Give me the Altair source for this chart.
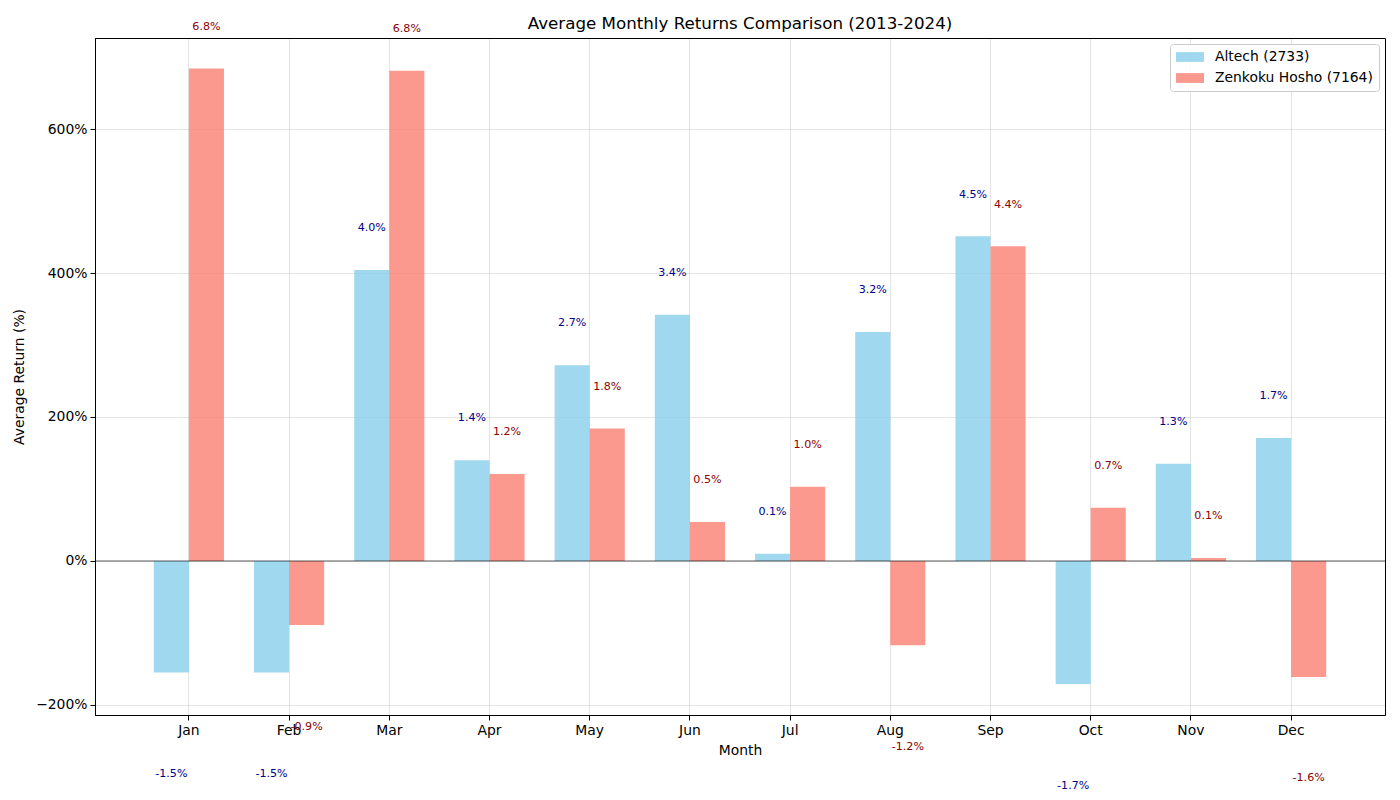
import altair as alt
import pandas as pd

months = ["Jan", "Feb", "Mar", "Apr", "May", "Jun", "Jul", "Aug", "Sep", "Oct", "Nov", "Dec"]
series_names = ["Altech (2733)", "Zenkoku Hosho (7164)"]
altech_vals = [-155, -155, 404, 140, 272, 342, 10, 318, 451, -171, 135, 171]
zenkoku_vals = [684, -89, 681, 121, 184, 54, 103, -117, 437, 74, 4, -161]
altech_labels = ["-1.5%", "-1.5%", "4.0%", "1.4%", "2.7%", "3.4%", "0.1%", "3.2%", "4.5%", "-1.7%", "1.3%", "1.7%"]
zenkoku_labels = ["6.8%", "-0.9%", "6.8%", "1.2%", "1.8%", "0.5%", "1.0%", "-1.2%", "4.4%", "0.7%", "0.1%", "-1.6%"]
bar_colors = ["#87CEEB", "#FA8072"]
text_colors = ["#00008B", "#8B0000"]

rows = []
for i, m in enumerate(months):
    rows.append({"month": m, "series": series_names[0], "value": altech_vals[i],
                 "label": altech_labels[i], "tcolor": text_colors[0]})
    rows.append({"month": m, "series": series_names[1], "value": zenkoku_vals[i],
                 "label": zenkoku_labels[i], "tcolor": text_colors[1]})
df = pd.DataFrame(rows)

FONT = "DejaVu Sans"
FS = 13.9

x_enc = alt.X("month:N", sort=months, title="Month",
              scale=alt.Scale(paddingInner=0.3, paddingOuter=0.587),
              axis=alt.Axis(labelAngle=0, grid=True, gridColor="#000000", gridOpacity=0.1,
                            bandPosition=0.5, tickColor="#000", tickSize=5,
                            domainColor="#000", labelColor="#000", titleColor="#000",
                            labelFontSize=FS, titleFontSize=FS, labelPadding=3,
                            titlePadding=7, titleFontWeight="normal"))
y_scale = alt.Scale(domain=[-213.9, 726.4], nice=False, zero=False)
xoff = alt.XOffset("series:N", sort=series_names, scale=alt.Scale(paddingInner=0, paddingOuter=0))

bars = alt.Chart(df).mark_bar(opacity=0.8).encode(
    x=x_enc,
    xOffset=xoff,
    y=alt.Y("value:Q", scale=y_scale, title="Average Return (%)",
            axis=alt.Axis(values=[-200, 0, 200, 400, 600],
                          labelExpr="replace(datum.value + '%', '-', '\u2212')",
                          grid=True, gridColor="#000000", gridOpacity=0.1,
                          tickColor="#000", tickSize=5, domainColor="#000",
                          labelColor="#000", titleColor="#000", labelFontSize=FS,
                          titleFontSize=FS, titleFontWeight="normal", labelPadding=3,
                          titlePadding=9)),
    color=alt.Color("series:N", sort=series_names,
                    scale=alt.Scale(domain=series_names, range=bar_colors),
                    legend=alt.Legend(title=None, orient="top-right", offset=6,
                                      fillColor="rgba(255,255,255,0.8)", strokeColor="#cccccc",
                                      cornerRadius=3, padding=6, labelFontSize=FS,
                                      labelColor="#000", rowPadding=7, symbolOpacity=0.8,
                                      symbolType="M-1,-0.7H3V0.7H-1Z", symbolSize=196,
                                      symbolStrokeWidth=0, labelOffset=25)),
)

zero = alt.Chart(pd.DataFrame({"z": [0]})).mark_rule(color="#000", strokeWidth=0.8, opacity=0.8).encode(
    y=alt.Y("z:Q", scale=y_scale)
)

texts = alt.Chart(df).transform_calculate(
    ly="datum.value >= 0 ? datum.value + 58 : datum.value - 141"
).mark_text(fontSize=11.1, font=FONT, baseline="middle", align="center").encode(
    x=alt.X("month:N", sort=months),
    xOffset=xoff,
    y=alt.Y("ly:Q", scale=y_scale),
    text="label:N",
    color=alt.Color("tcolor:N", scale=None),
)

chart = alt.layer(bars, zero, texts).properties(
    width=1290, height=677,
    title=alt.TitleParams("Average Monthly Returns Comparison (2013-2024)", fontSize=16.7,
                          font=FONT, fontWeight="normal", color="#000", anchor="middle",
                          frame="group", offset=8, dy=20),
    padding={"left": 87, "top": 30, "right": 7, "bottom": 77},
    autosize=alt.AutoSizeParams(type="none"),
).configure(font=FONT).configure_view(stroke="#000", strokeWidth=1).configure_axis(
    labelFont=FONT, titleFont=FONT
).configure_legend(labelFont=FONT)

chart.save("out.html", embed_options={"renderer": "svg", "actions": False})
